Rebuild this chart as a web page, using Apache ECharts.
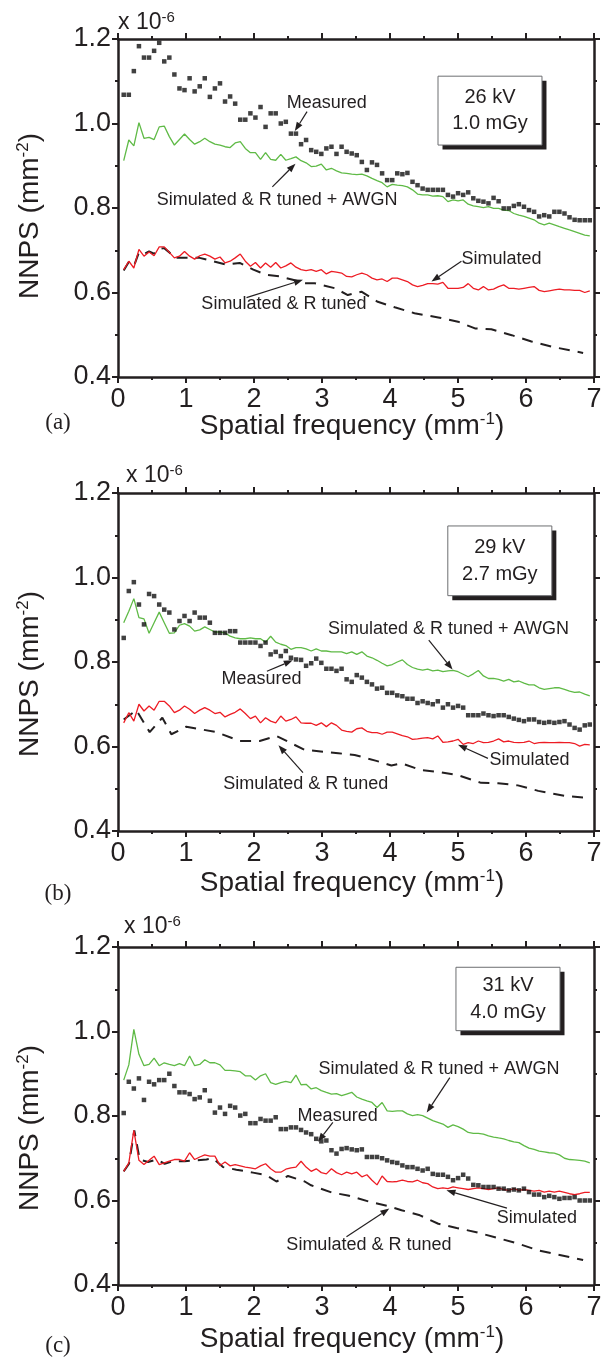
<!DOCTYPE html>
<html>
<head>
<meta charset="utf-8">
<script src="https://cdn.jsdelivr.net/npm/echarts@6/dist/echarts.min.js"></script>
<style>
  html, body { margin: 0; padding: 0; background: #fff; }
  #chart { width: 610px; height: 1366px; }
</style>
</head>
<body>
<div id="chart"></div>
<script>
// Spatial frequency sample points (mm^-1) shared by the measured and simulated NNPS curves
const freq = [
  0.084, 0.159, 0.233, 0.308, 0.382, 0.457, 0.531, 0.606, 0.680, 0.755,
  0.829, 0.904, 0.978, 1.053, 1.127, 1.202, 1.276, 1.351, 1.425, 1.500,
  1.574, 1.649, 1.723, 1.798, 1.872, 1.947, 2.021, 2.096, 2.170, 2.245,
  2.319, 2.394, 2.468, 2.543, 2.617, 2.692, 2.766, 2.841, 2.915, 2.990,
  3.064, 3.139, 3.213, 3.288, 3.362, 3.437, 3.511, 3.586, 3.660, 3.735,
  3.809, 3.884, 3.958, 4.033, 4.107, 4.182, 4.256, 4.331, 4.405, 4.480,
  4.554, 4.629, 4.703, 4.778, 4.852, 4.927, 5.001, 5.076, 5.150, 5.225,
  5.299, 5.374, 5.448, 5.523, 5.597, 5.672, 5.746, 5.821, 5.895, 5.970,
  6.044, 6.119, 6.193, 6.268, 6.342, 6.417, 6.491, 6.566, 6.640, 6.715,
  6.789, 6.864, 6.938
];

// (a) 26 kV, 1.0 mGy  — NNPS in units of 1e-6 mm^2
const measuredA = [
  1.068, 1.068, 1.124, 1.183, 1.156, 1.156, 1.172, 1.191, 1.147, 1.156,
  1.116, 1.083, 1.079, 1.107, 1.076, 1.088, 1.107, 1.063, 1.083, 1.095,
  1.052, 1.064, 1.047, 1.009, 1.009, 1.024, 1.014, 1.039, 0.992, 1.024,
  1.024, 1.000, 1.004, 0.976, 0.976, 0.951, 0.961, 0.937, 0.933, 0.928,
  0.941, 0.945, 0.928, 0.945, 0.933, 0.929, 0.925, 0.909, 0.890, 0.908,
  0.902, 0.882, 0.866, 0.866, 0.882, 0.880, 0.883, 0.862, 0.854, 0.846,
  0.843, 0.843, 0.843, 0.843, 0.831, 0.827, 0.835, 0.831, 0.837, 0.823,
  0.817, 0.815, 0.811, 0.824, 0.816, 0.799, 0.799, 0.805, 0.809, 0.803,
  0.795, 0.791, 0.780, 0.783, 0.780, 0.791, 0.791, 0.787, 0.778, 0.772,
  0.771, 0.771, 0.771
];
const awgnA = [
  0.912, 0.961, 0.947, 1.002, 0.965, 0.967, 0.962, 0.992, 0.994, 0.969,
  0.949, 0.962, 0.975, 0.962, 0.951, 0.957, 0.965, 0.957, 0.951, 0.949,
  0.945, 0.943, 0.954, 0.957, 0.941, 0.931, 0.931, 0.915, 0.931, 0.915,
  0.913, 0.927, 0.913, 0.917, 0.921, 0.912, 0.907, 0.898, 0.899, 0.904,
  0.890, 0.894, 0.888, 0.883, 0.882, 0.880, 0.879, 0.880, 0.876, 0.870,
  0.865, 0.860, 0.850, 0.856, 0.854, 0.853, 0.850, 0.843, 0.833, 0.831,
  0.831, 0.828, 0.829, 0.827, 0.815, 0.819, 0.817, 0.819, 0.809, 0.805,
  0.803, 0.801, 0.803, 0.799, 0.799, 0.795, 0.794, 0.787, 0.783, 0.780,
  0.776, 0.772, 0.764, 0.760, 0.764, 0.760, 0.756, 0.752, 0.748, 0.744,
  0.740, 0.736, 0.734
];
const simulatedA = [
  0.654, 0.674, 0.658, 0.702, 0.686, 0.696, 0.687, 0.708, 0.708, 0.695,
  0.682, 0.686, 0.697, 0.686, 0.679, 0.687, 0.691, 0.686, 0.679, 0.684,
  0.670, 0.674, 0.682, 0.691, 0.674, 0.662, 0.671, 0.658, 0.670, 0.660,
  0.671, 0.658, 0.663, 0.670, 0.660, 0.654, 0.652, 0.654, 0.650, 0.654,
  0.644, 0.650, 0.648, 0.646, 0.638, 0.637, 0.642, 0.646, 0.642, 0.634,
  0.630, 0.632, 0.626, 0.634, 0.634, 0.630, 0.626, 0.618, 0.614, 0.617,
  0.621, 0.621, 0.620, 0.624, 0.610, 0.610, 0.610, 0.612, 0.621, 0.610,
  0.606, 0.614, 0.606, 0.608, 0.614, 0.618, 0.610, 0.610, 0.608, 0.610,
  0.612, 0.614, 0.605, 0.602, 0.604, 0.606, 0.608, 0.606, 0.606, 0.605,
  0.605, 0.600, 0.604
];
const tunedFreqA = [
  0.084, 0.158, 0.233, 0.308, 0.382, 0.457, 0.531, 0.606, 0.68, 0.755,
  0.829, 1.0, 1.2, 1.4, 1.59, 1.79, 1.99, 2.18, 2.38, 2.57,
  2.75, 2.89, 3.19, 3.38, 3.58, 3.82, 4.07, 4.36, 4.71, 5.0,
  5.25, 5.49, 5.79, 6.08, 6.37, 6.84
];
const tunedA = [
  0.652, 0.672, 0.662, 0.695, 0.691, 0.697, 0.692, 0.703, 0.705, 0.695,
  0.682, 0.682, 0.682, 0.674, 0.666, 0.670, 0.654, 0.642, 0.638, 0.630,
  0.622, 0.622, 0.610, 0.594, 0.602, 0.578, 0.565, 0.551, 0.541, 0.531,
  0.515, 0.513, 0.499, 0.484, 0.472, 0.457
];

// (b) 29 kV, 2.7 mGy
const measuredB = [
  0.857, 0.968, 0.989, 0.936, 0.889, 0.961, 0.956, 0.936, 0.924, 0.917,
  0.877, 0.897, 0.909, 0.897, 0.917, 0.905, 0.905, 0.893, 0.869, 0.869,
  0.869, 0.873, 0.873, 0.846, 0.846, 0.846, 0.846, 0.838, 0.846, 0.818,
  0.824, 0.814, 0.826, 0.810, 0.806, 0.805, 0.791, 0.797, 0.808, 0.798,
  0.784, 0.784, 0.779, 0.784, 0.759, 0.753, 0.769, 0.763, 0.753, 0.747,
  0.737, 0.739, 0.727, 0.727, 0.721, 0.719, 0.713, 0.713, 0.703, 0.707,
  0.703, 0.700, 0.707, 0.692, 0.700, 0.692, 0.696, 0.692, 0.674, 0.674,
  0.674, 0.678, 0.674, 0.672, 0.674, 0.674, 0.670, 0.666, 0.663, 0.660,
  0.664, 0.664, 0.658, 0.656, 0.658, 0.656, 0.658, 0.660, 0.652, 0.644,
  0.640, 0.650, 0.652
];
const awgnB = [
  0.893, 0.920, 0.950, 0.905, 0.902, 0.868, 0.893, 0.918, 0.893, 0.868,
  0.869, 0.887, 0.891, 0.885, 0.873, 0.876, 0.883, 0.877, 0.871, 0.871,
  0.869, 0.861, 0.857, 0.855, 0.855, 0.857, 0.855, 0.855, 0.847, 0.861,
  0.847, 0.842, 0.839, 0.830, 0.834, 0.834, 0.831, 0.826, 0.831, 0.826,
  0.826, 0.824, 0.824, 0.824, 0.820, 0.824, 0.818, 0.824, 0.814, 0.810,
  0.804, 0.797, 0.791, 0.794, 0.800, 0.805, 0.794, 0.787, 0.783, 0.781,
  0.783, 0.779, 0.781, 0.777, 0.779, 0.780, 0.777, 0.771, 0.765, 0.772,
  0.780, 0.767, 0.761, 0.761, 0.759, 0.755, 0.759, 0.753, 0.755, 0.750,
  0.746, 0.746, 0.739, 0.735, 0.737, 0.739, 0.739, 0.735, 0.731, 0.728,
  0.729, 0.724, 0.720
];
const simulatedB = [
  0.656, 0.680, 0.660, 0.700, 0.684, 0.696, 0.686, 0.707, 0.707, 0.696,
  0.680, 0.686, 0.696, 0.688, 0.678, 0.686, 0.692, 0.686, 0.678, 0.681,
  0.670, 0.676, 0.681, 0.689, 0.678, 0.666, 0.672, 0.656, 0.668, 0.660,
  0.656, 0.672, 0.660, 0.664, 0.670, 0.656, 0.655, 0.655, 0.650, 0.656,
  0.647, 0.656, 0.650, 0.639, 0.636, 0.634, 0.642, 0.644, 0.636, 0.633,
  0.633, 0.629, 0.634, 0.634, 0.630, 0.626, 0.623, 0.617, 0.618, 0.620,
  0.621, 0.618, 0.625, 0.610, 0.611, 0.613, 0.617, 0.605, 0.609, 0.607,
  0.613, 0.609, 0.610, 0.613, 0.618, 0.611, 0.613, 0.610, 0.609, 0.610,
  0.613, 0.607, 0.609, 0.610, 0.609, 0.609, 0.610, 0.609, 0.609, 0.607,
  0.601, 0.605, 0.604
];
const tunedFreqB = [
  0.084, 0.27, 0.466, 0.652, 0.784, 1.005, 1.446, 1.79, 2.084, 2.33,
  2.746, 3.24, 3.48, 3.80, 4.02, 4.17, 4.46, 4.71, 5.0, 5.34,
  5.59, 5.88, 6.18, 6.57, 6.84
];
const tunedB = [
  0.664, 0.686, 0.634, 0.668, 0.629, 0.647, 0.634, 0.613, 0.613, 0.625,
  0.592, 0.584, 0.580, 0.566, 0.555, 0.560, 0.544, 0.540, 0.532, 0.514,
  0.513, 0.508, 0.495, 0.483, 0.479
];

// (c) 31 kV, 4.0 mGy
const measuredC = [
  0.807, 0.881, 0.865, 0.889, 0.838, 0.881, 0.875, 0.885, 0.885, 0.900,
  0.871, 0.856, 0.856, 0.852, 0.840, 0.844, 0.861, 0.836, 0.808, 0.820,
  0.805, 0.824, 0.820, 0.801, 0.805, 0.783, 0.783, 0.793, 0.789, 0.789,
  0.797, 0.769, 0.769, 0.773, 0.773, 0.767, 0.761, 0.757, 0.746, 0.740,
  0.742, 0.719, 0.711, 0.722, 0.724, 0.721, 0.719, 0.721, 0.703, 0.703,
  0.703, 0.700, 0.695, 0.691, 0.689, 0.683, 0.679, 0.679, 0.675, 0.671,
  0.675, 0.663, 0.661, 0.661, 0.656, 0.648, 0.653, 0.661, 0.652, 0.637,
  0.636, 0.632, 0.632, 0.632, 0.628, 0.628, 0.624, 0.626, 0.624, 0.628,
  0.620, 0.614, 0.614, 0.608, 0.611, 0.608, 0.604, 0.606, 0.606, 0.608,
  0.600, 0.600, 0.600
];
const awgnC = [
  0.885, 0.921, 1.005, 0.946, 0.919, 0.922, 0.937, 0.919, 0.926, 0.922,
  0.919, 0.924, 0.919, 0.942, 0.919, 0.922, 0.933, 0.926, 0.926, 0.921,
  0.908, 0.908, 0.907, 0.905, 0.895, 0.895, 0.885, 0.895, 0.900, 0.879,
  0.875, 0.879, 0.882, 0.879, 0.897, 0.874, 0.875, 0.864, 0.867, 0.860,
  0.856, 0.852, 0.853, 0.848, 0.852, 0.856, 0.845, 0.840, 0.836, 0.832,
  0.820, 0.832, 0.812, 0.811, 0.812, 0.812, 0.805, 0.801, 0.803, 0.801,
  0.795, 0.789, 0.785, 0.781, 0.773, 0.779, 0.775, 0.769, 0.761, 0.759,
  0.759, 0.757, 0.753, 0.750, 0.748, 0.746, 0.742, 0.739, 0.737, 0.730,
  0.724, 0.721, 0.717, 0.715, 0.713, 0.712, 0.708, 0.700, 0.697, 0.696,
  0.695, 0.693, 0.689
];
const simulatedC = [
  0.669, 0.689, 0.766, 0.695, 0.685, 0.695, 0.705, 0.685, 0.689, 0.693,
  0.697, 0.697, 0.693, 0.713, 0.697, 0.703, 0.708, 0.705, 0.705, 0.683,
  0.691, 0.682, 0.685, 0.682, 0.679, 0.677, 0.675, 0.682, 0.687, 0.675,
  0.667, 0.667, 0.674, 0.677, 0.679, 0.693, 0.679, 0.669, 0.675, 0.666,
  0.663, 0.675, 0.666, 0.661, 0.667, 0.663, 0.667, 0.656, 0.661, 0.648,
  0.637, 0.658, 0.645, 0.644, 0.645, 0.648, 0.645, 0.644, 0.648, 0.642,
  0.640, 0.632, 0.628, 0.630, 0.628, 0.632, 0.630, 0.628, 0.626, 0.628,
  0.630, 0.628, 0.626, 0.628, 0.630, 0.626, 0.624, 0.628, 0.624, 0.626,
  0.624, 0.622, 0.624, 0.620, 0.622, 0.620, 0.622, 0.619, 0.616, 0.614,
  0.616, 0.619, 0.619
];
const tunedFreqC = [
  0.084, 0.162, 0.24, 0.319, 0.441, 0.564, 0.686, 0.809, 0.98, 1.128,
  1.30, 1.397, 1.544, 1.74, 1.985, 2.18, 2.33, 2.50, 2.746, 2.84,
  3.14, 3.38, 3.70, 3.97, 4.17, 4.44, 4.71, 4.98, 5.27, 5.59,
  5.88, 6.18, 6.47, 6.84
];
const tunedC = [
  0.669, 0.687, 0.766, 0.697, 0.691, 0.697, 0.687, 0.693, 0.693, 0.695,
  0.697, 0.700, 0.679, 0.673, 0.666, 0.660, 0.645, 0.658, 0.645, 0.636,
  0.619, 0.612, 0.597, 0.587, 0.577, 0.565, 0.545, 0.535, 0.525, 0.511,
  0.498, 0.482, 0.472, 0.459
];

// Axis ticks
const xTicks = { min: 0, max: 7, step: 1 };
const yTicks = { min: 0.4, max: 1.2, step: 0.2 };

// Panel captions and inset labels
const panelLetters = ['(a)', '(b)', '(c)'];
const insetLines = [['26 kV', '1.0 mGy'], ['29 kV', '2.7 mGy'], ['31 kV', '4.0 mGy']];

const INK = '#231f20';
const GREEN = '#5fba46';
const RED = '#ed1c24';
const SANS = '"Liberation Sans", Arial, Helvetica, sans-serif';
const SERIF = '"Liberation Serif", "Times New Roman", serif';

const panels = [
  { measured: measuredA, awgn: awgnA, sim: simulatedA, tf: tunedFreqA, tuned: tunedA },
  { measured: measuredB, awgn: awgnB, sim: simulatedB, tf: tunedFreqB, tuned: tunedB },
  { measured: measuredC, awgn: awgnC, sim: simulatedC, tf: tunedFreqC, tuned: tunedC }
];

// Layout of the three stacked panels (pixels)
const layout = {
  left: 118, width: 476, height: 338,
  tops: [39, 493, 947],
  yTitle: [[30, 216], [30, 674], [30, 1128]],
  xTitle: [[352, 426], [352, 883], [352, 1339]],
  letter: [[58, 423], [58, 894], [58, 1346]],
  expo: [[118, 23], [126, 476], [124, 927]]
};

// Callouts, placed in each panel's data coordinates
const callouts = [
  { p: 0, text: 'Measured', at: [3.07, 1.048], tail: [2.78, 1.028], tip: [2.60, 0.982] },
  { p: 0, text: 'Simulated & R tuned + AWGN', at: [2.34, 0.818], tail: [2.27, 0.850], tip: [2.61, 0.905] },
  { p: 0, text: 'Simulated', at: [5.64, 0.679], tail: [5.05, 0.674], tip: [4.61, 0.626] },
  { p: 0, text: 'Simulated & R tuned', at: [2.44, 0.572], tail: [1.89, 0.588], tip: [2.72, 0.630] },
  { p: 1, text: 'Simulated & R tuned + AWGN', at: [4.86, 0.877], tail: [4.57, 0.852], tip: [4.92, 0.782] },
  { p: 1, text: 'Measured', at: [2.11, 0.759], tail: [2.19, 0.778], tip: [2.57, 0.804] },
  { p: 1, text: 'Simulated', at: [6.05, 0.567], tail: [5.44, 0.572], tip: [5.00, 0.604] },
  { p: 1, text: 'Simulated & R tuned', at: [2.76, 0.510], tail: [2.72, 0.538], tip: [2.36, 0.603] },
  { p: 2, text: 'Simulated & R tuned + AWGN', at: [4.72, 0.910], tail: [4.88, 0.891], tip: [4.54, 0.808] },
  { p: 2, text: 'Measured', at: [3.23, 0.799], tail: [3.16, 0.785], tip: [2.94, 0.739] },
  { p: 2, text: 'Simulated', at: [6.16, 0.558], tail: [5.72, 0.582], tip: [4.83, 0.624] },
  { p: 2, text: 'Simulated & R tuned', at: [3.69, 0.495], tail: [3.36, 0.514], tip: [3.99, 0.581] }
];
const insetBoxes = [
  { p: 0, from: [4.706, 1.112], to: [6.235, 0.949] },
  { p: 1, from: [4.85, 1.122], to: [6.38, 0.957] },
  { p: 2, from: [4.97, 1.152], to: [6.50, 1.002] }
];

const tickLine = { color: INK, width: 2 };

function xAxisFor(i, pos) {
  return {
    gridIndex: i, type: 'value', position: pos,
    min: xTicks.min, max: xTicks.max, interval: xTicks.step,
    axisLine: { show: true, onZero: false, lineStyle: { color: INK, width: 2.5 } },
    axisTick: { show: true, inside: false, length: 6, lineStyle: tickLine },
    minorTick: { show: true, splitNumber: 2, length: 3, lineStyle: tickLine },
    axisLabel: { show: pos === 'bottom', fontSize: 27, color: INK, fontFamily: SANS, margin: 9 },
    splitLine: { show: false }, minorSplitLine: { show: false }
  };
}
function yAxisFor(i, pos) {
  return {
    gridIndex: i, type: 'value', position: pos,
    min: yTicks.min, max: yTicks.max, interval: yTicks.step,
    axisLine: { show: true, onZero: false, lineStyle: { color: INK, width: 2.5 } },
    axisTick: { show: true, inside: false, length: 6, lineStyle: tickLine },
    minorTick: { show: true, splitNumber: 2, length: 3, lineStyle: tickLine },
    axisLabel: { show: pos === 'left', fontSize: 27, color: INK, fontFamily: SANS, margin: 7,
                 formatter: v => v.toFixed(1) },
    splitLine: { show: false }, minorSplitLine: { show: false }
  };
}

const grid = [], xAxis = [], yAxis = [], series = [];
panels.forEach((d, i) => {
  grid.push({ left: layout.left, top: layout.tops[i], width: layout.width, height: layout.height });
  xAxis.push(xAxisFor(i, 'bottom'), xAxisFor(i, 'top'));
  yAxis.push(yAxisFor(i, 'left'), yAxisFor(i, 'right'));
  const ax = { xAxisIndex: 2 * i, yAxisIndex: 2 * i };
  series.push(
    Object.assign({
      type: 'line', name: 'Simulated & R tuned', data: d.tf.map((f, k) => [f, d.tuned[k]]),
      showSymbol: false, lineStyle: { color: INK, width: 2, type: [11, 8] }, z: 2
    }, ax),
    Object.assign({
      type: 'line', name: 'Simulated', data: freq.map((f, k) => [f, d.sim[k]]),
      showSymbol: false, lineStyle: { color: RED, width: 1.3 }, z: 3
    }, ax),
    Object.assign({
      type: 'line', name: 'Simulated & R tuned + AWGN', data: freq.map((f, k) => [f, d.awgn[k]]),
      showSymbol: false, lineStyle: { color: GREEN, width: 1.3 }, z: 3
    }, ax),
    Object.assign({
      type: 'scatter', name: 'Measured', data: freq.map((f, k) => [f, d.measured[k]]),
      symbol: 'rect', symbolSize: 4.5, itemStyle: { color: '#111' }, z: 4
    }, ax)
  );
});

const chart = echarts.init(document.getElementById('chart'), null, { renderer: 'canvas' });
chart.setOption({
  animation: false,
  backgroundColor: '#fff',
  grid, xAxis, yAxis, series
});

function toPx(p, pt) {
  return chart.convertToPixel({ xAxisIndex: 2 * p, yAxisIndex: 2 * p }, pt);
}

function arrow(tail, tip) {
  const dx = tip[0] - tail[0], dy = tip[1] - tail[1];
  const L = Math.hypot(dx, dy), ux = dx / L, uy = dy / L;
  const len = 9, half = 3.3;
  const bx = tip[0] - ux * len, by = tip[1] - uy * len;
  return [
    { type: 'line', shape: { x1: tail[0], y1: tail[1], x2: bx, y2: by },
      style: { stroke: INK, lineWidth: 1.2 }, z: 10 },
    { type: 'polygon', shape: { points: [tip, [bx - uy * half, by + ux * half], [bx + uy * half, by - ux * half]] },
      style: { fill: INK }, z: 10 }
  ];
}

const graphic = [];

// axis titles, exponent notes and panel letters
panels.forEach((d, i) => {
  graphic.push({
    type: 'text', x: layout.yTitle[i][0], y: layout.yTitle[i][1], rotation: Math.PI / 2, z: 10,
    style: {
      text: '{m|NNPS (mm}{s|-2}{m|)}', align: 'center', verticalAlign: 'middle',
      rich: {
        m: { fontSize: 28, fontFamily: SANS, fill: INK, lineHeight: 30 },
        s: { fontSize: 17, fontFamily: SANS, fill: INK, lineHeight: 15, verticalAlign: 'top' }
      }
    }
  });
  graphic.push({
    type: 'text', x: layout.xTitle[i][0], y: layout.xTitle[i][1], z: 10,
    style: {
      text: '{m|Spatial frequency (mm}{s|-1}{m|)}', align: 'center', verticalAlign: 'middle',
      rich: {
        m: { fontSize: 28, fontFamily: SANS, fill: INK, lineHeight: 30 },
        s: { fontSize: 17, fontFamily: SANS, fill: INK, lineHeight: 15, verticalAlign: 'top' }
      }
    }
  });
  graphic.push({
    type: 'text', x: layout.expo[i][0], y: layout.expo[i][1], z: 10,
    style: {
      text: '{m|x 10}{s|-6}', align: 'left', verticalAlign: 'middle',
      rich: {
        m: { fontSize: 23, fontFamily: SANS, fill: INK, lineHeight: 26 },
        s: { fontSize: 15, fontFamily: SANS, fill: INK, lineHeight: 13, verticalAlign: 'top' }
      }
    }
  });
  graphic.push({
    type: 'text', x: layout.letter[i][0], y: layout.letter[i][1], z: 10,
    style: { text: panelLetters[i], align: 'center', verticalAlign: 'middle',
             fontSize: 23, fontFamily: SERIF, fill: INK }
  });
});

// inset boxes with drop shadow
insetBoxes.forEach((b, n) => {
  const a = toPx(b.p, b.from), c = toPx(b.p, b.to);
  const w = c[0] - a[0], h = c[1] - a[1];
  graphic.push(
    { type: 'rect', shape: { x: a[0] + 4.5, y: a[1] + 4.5, width: w, height: h }, style: { fill: INK }, z: 10 },
    { type: 'rect', shape: { x: a[0], y: a[1], width: w, height: h },
      style: { fill: '#fff', stroke: '#6d6e71', lineWidth: 1 }, z: 11 },
    { type: 'text', x: a[0] + w / 2, y: a[1] + h / 2, z: 12,
      style: { text: insetLines[n].join('\n'), align: 'center', verticalAlign: 'middle',
               fontSize: 20, lineHeight: 26.5, fontFamily: SANS, fill: INK } }
  );
});

// callout labels with arrows
callouts.forEach(c => {
  const at = toPx(c.p, c.at);
  graphic.push({
    type: 'text', x: at[0], y: at[1], z: 12,
    style: { text: c.text, align: 'center', verticalAlign: 'middle',
             fontSize: 18, fontFamily: SANS, fill: INK }
  });
  arrow(toPx(c.p, c.tail), toPx(c.p, c.tip)).forEach(g => graphic.push(g));
});

chart.setOption({ graphic });
</script>
</body>
</html>
